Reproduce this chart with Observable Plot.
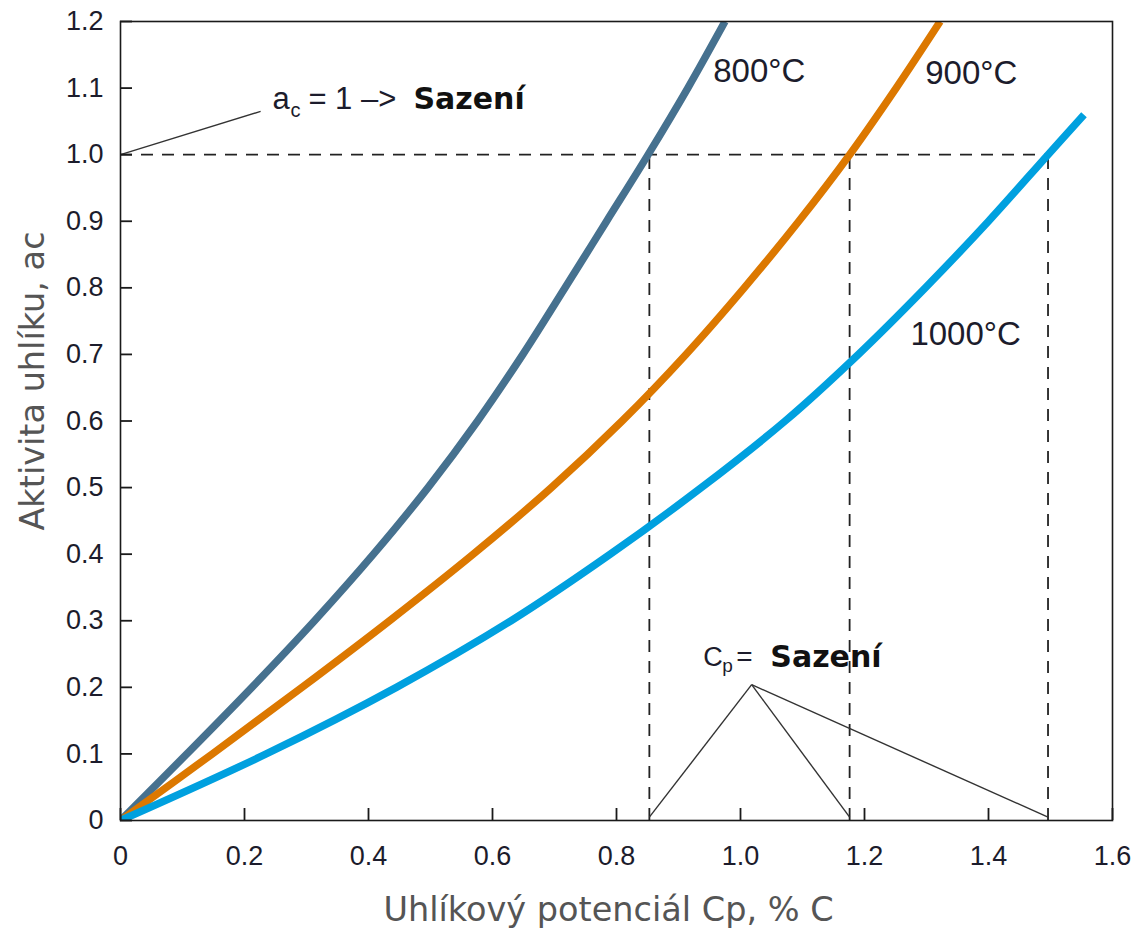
<!DOCTYPE html>
<html><head><meta charset="utf-8">
<script src="https://cdn.jsdelivr.net/npm/d3@7"></script>
<script src="https://cdn.jsdelivr.net/npm/@observablehq/plot@0.6"></script>
<style>html,body{margin:0;padding:0;background:#fff;} #chart svg{display:block}</style>
</head><body><div id="chart"></div>
<script>
// ---- data ----
const temps = ["800°C", "900°C", "1000°C"];
const colors = ["#46718f", "#dc7800", "#00a0df"];

const acLevels = [0, 0.1, 0.2, 0.3, 0.4, 0.5, 0.6, 0.7, 0.8, 0.9, 1.0, 1.1, 1.2];
const cp800  = [0, 0.107, 0.212, 0.313, 0.408, 0.496, 0.576, 0.649, 0.717, 0.784, 0.851, 0.915, 0.975];
const cp900  = [0, 0.148, 0.293, 0.434, 0.569, 0.695, 0.809, 0.912, 1.006, 1.094, 1.176, 1.251, 1.322];
const ac1000 = [0, 0.1, 0.2, 0.3, 0.4, 0.5, 0.6, 0.7, 0.8, 0.9, 1.0, 1.06];
const cp1000 = [0, 0.235, 0.445, 0.63, 0.79, 0.937, 1.072, 1.19, 1.298, 1.40, 1.496, 1.554];

// soot limit a_c = 1 and the Cp where each curve reaches it
const sootAc = 1.0;
const sootCp = [0.853, 1.176, 1.496];

// label positions (data coordinates)
const tempLabelCp = [0.956, 1.298, 1.274];
const tempLabelAc = [1.125, 1.122, 0.730];

// annotation anchors
const acNoteCp = 0.245, acNoteAc = 1.083;       // "a_c = 1 -> Sazení"
const acLeaderEnd = [0.226, 1.065];
const cpNoteCp = 0.940, cpNoteAc = 0.245;        // "C_p = Sazení"
const cpApex = [1.018, 0.204];
const cpLeaderFootAc = 0.005;

const xTicks = [0, 0.2, 0.4, 0.6, 0.8, 1.0, 1.2, 1.4, 1.6];
const xTickLabels = ["0", "0.2", "0.4", "0.6", "0.8", "1.0", "1.2", "1.4", "1.6"];
const yTicks = [0, 0.1, 0.2, 0.3, 0.4, 0.5, 0.6, 0.7, 0.8, 0.9, 1.0, 1.1, 1.2];
const yTickLabels = ["0", "0.1", "0.2", "0.3", "0.4", "0.5", "0.6", "0.7", "0.8", "0.9", "1.0", "1.1", "1.2"];

const xTitle = "Uhlíkový potenciál Cp, % C";
const yTitle = "Aktivita uhlíku, ac";

// ---- build tables ----
const series = [
  {temp: temps[0], cp: cp800, ac: acLevels},
  {temp: temps[1], cp: cp900, ac: acLevels},
  {temp: temps[2], cp: cp1000, ac: ac1000}
];
const curveRows = series.flatMap(s => s.cp.map((c, i) => ({temp: s.temp, cp: c, ac: s.ac[i]})));
const tempLabels = temps.map((t, i) => ({t, cp: tempLabelCp[i], ac: tempLabelAc[i]}));
const cpLeaders = sootCp.map(c => ({x1: cpApex[0], y1: cpApex[1], x2: c, y2: cpLeaderFootAc}));

const sans = "'Liberation Sans', Arial, sans-serif";
const verd = "'DejaVu Sans', Verdana, sans-serif";
const ink = "#1c1c2c";

const chart = Plot.plot({
  width: 1139,
  height: 928,
  marginLeft: 120,
  marginRight: 27,
  marginTop: 21,
  marginBottom: 108,
  style: {background: "#fff", fontFamily: sans},
  x: {domain: [0, 1.6], axis: null},
  y: {domain: [0, 1.2], axis: null},
  color: {domain: temps, range: colors},
  marks: [
    // dashed guide lines
    Plot.ruleY([sootAc], {x1: 0, x2: sootCp[2], stroke: "#222", strokeWidth: 1.8, strokeDasharray: "12,9"}),
    Plot.ruleX(sootCp, {y1: 0, y2: sootAc, stroke: "#222", strokeWidth: 1.8, strokeDasharray: "12,9"}),
    // leaders
    Plot.link([{x1: 0, y1: sootAc, x2: acLeaderEnd[0], y2: acLeaderEnd[1]}], {x1: "x1", y1: "y1", x2: "x2", y2: "y2", stroke: "#333", strokeWidth: 1.4}),
    Plot.link(cpLeaders, {x1: "x1", y1: "y1", x2: "x2", y2: "y2", stroke: "#333", strokeWidth: 1.4}),
    // curves
    Plot.line(curveRows, {x: "cp", y: "ac", z: "temp", stroke: "temp", strokeWidth: 7.5, curve: "catmull-rom", strokeLinecap: "butt", clip: true}),
    // frame
    Plot.frame({stroke: "#1a1a1a", strokeWidth: 1.6}),
    // axes: labels
    Plot.axisX(xTicks, {tickSize: 0, tickPadding: 25, tickFormat: (d, i) => xTickLabels[i], fontSize: 27, fill: ink, fontFamily: sans, label: null}),
    Plot.axisY(yTicks, {tickSize: 0, tickPadding: 17, tickFormat: (d, i) => yTickLabels[i], fontSize: 27, fill: ink, fontFamily: sans, label: null}),
    // axes: inward ticks
    Plot.axisX(xTicks, {tickSize: 12, dy: -12, fill: "none", stroke: "#1a1a1a", strokeWidth: 1.8, label: null}),
    Plot.axisY(yTicks, {tickSize: 12, dx: 12, fill: "none", stroke: "#1a1a1a", strokeWidth: 1.8, label: null}),
    // axis titles
    Plot.text([xTitle], {frameAnchor: "bottom", textAnchor: "middle", dx: -8, dy: 90, text: d => d, fontSize: 33.5, fill: "#555", fontFamily: verd, lineAnchor: "middle"}),
    Plot.text([yTitle], {frameAnchor: "left", textAnchor: "middle", dx: -87, dy: -40, rotate: -90, text: d => d, fontSize: 33.5, fill: "#555", fontFamily: verd, lineAnchor: "middle"}),
    // temperature labels
    Plot.text(tempLabels, {x: "cp", y: "ac", text: "t", textAnchor: "start", fontSize: 33, fill: ink, fontFamily: sans}),
    // a_c = 1 -> Sazení
    Plot.text(["a"], {x: () => acNoteCp, y: () => acNoteAc, text: d => d, textAnchor: "start", fontSize: 31, fill: ink, fontFamily: sans}),
    Plot.text(["c"], {x: () => acNoteCp, y: () => acNoteAc, text: d => d, textAnchor: "start", dx: 18, dy: 11, fontSize: 20, fill: ink, fontFamily: sans}),
    Plot.text(["= 1 –>"], {x: () => acNoteCp, y: () => acNoteAc, text: d => d, textAnchor: "start", dx: 36, fontSize: 31, fill: ink, fontFamily: sans}),
    Plot.text(["Sazení"], {x: () => acNoteCp, y: () => acNoteAc, text: d => d, textAnchor: "start", dx: 141, fontSize: 30, fontWeight: "bold", fill: "#111", fontFamily: verd}),
    // C_p = Sazení
    Plot.text(["C"], {x: () => cpNoteCp, y: () => cpNoteAc, text: d => d, textAnchor: "start", fontSize: 27, fill: ink, fontFamily: sans}),
    Plot.text(["p"], {x: () => cpNoteCp, y: () => cpNoteAc, text: d => d, textAnchor: "start", dx: 19, dy: 9, fontSize: 19, fill: ink, fontFamily: sans}),
    Plot.text(["="], {x: () => cpNoteCp, y: () => cpNoteAc, text: d => d, textAnchor: "start", dx: 33, fontSize: 28, fill: ink, fontFamily: sans}),
    Plot.text(["Sazení"], {x: () => cpNoteCp, y: () => cpNoteAc, text: d => d, textAnchor: "start", dx: 67, fontSize: 30, fontWeight: "bold", fill: "#111", fontFamily: verd})
  ]
});
document.getElementById("chart").append(chart);
</script>
</body></html>
